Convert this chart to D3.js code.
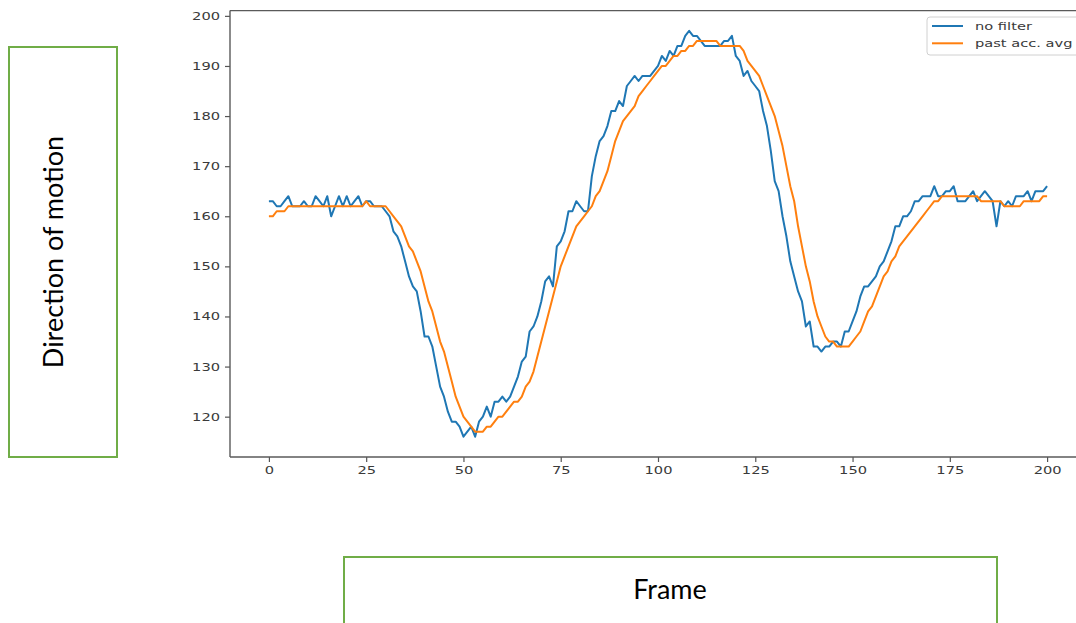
<!DOCTYPE html>
<html>
<head>
<meta charset="utf-8">
<script src="https://cdn.jsdelivr.net/npm/d3@7"></script>
<style>
  body { margin: 0; background: #fff; overflow: hidden; }
  svg { display: block; }
</style>
</head>
<body>
<div id="chart"></div>
<script>
// frame numbers 0..200
var frames = d3.range(0, 201);

// direction of motion, raw
var noFilter = [
  163, 163, 162, 162, 163, 164, 162, 162, 162, 163,
  162, 162, 164, 163, 162, 164, 160, 162, 164, 162,
  164, 162, 163, 164, 162, 163, 163, 162, 162, 162,
  161, 160, 157, 156, 154, 151, 148, 146, 145, 141,
  136, 136, 134, 130, 126, 124, 121, 119, 119, 118,
  116, 117, 118, 116, 119, 120, 122, 120, 123, 123,
  124, 123, 124, 126, 128, 131, 132, 137, 138, 140,
  143, 147, 148, 146, 154, 155, 157, 161, 161, 163,
  162, 161, 161, 168, 172, 175, 176, 178, 181, 181,
  183, 182, 186, 187, 188, 187, 188, 188, 188, 189,
  190, 192, 191, 193, 192, 194, 194, 196, 197, 196,
  196, 195, 194, 194, 194, 194, 194, 195, 195, 196,
  192, 191, 188, 189, 187, 186, 185, 181, 178, 173,
  167, 165, 160, 156, 151, 148, 145, 143, 138, 139,
  134, 134, 133, 134, 134, 135, 135, 134, 137, 137,
  139, 141, 144, 146, 146, 147, 148, 150, 151, 153,
  155, 158, 158, 160, 160, 161, 163, 163, 164, 164,
  164, 166, 164, 164, 165, 165, 166, 163, 163, 163,
  164, 165, 163, 164, 165, 164, 163, 158, 163, 162,
  163, 162, 164, 164, 164, 165, 163, 165, 165, 165,
  166
];

// direction of motion, past accumulated average
var pastAccAvg = [
  160, 160, 161, 161, 161, 162, 162, 162, 162, 162,
  162, 162, 162, 162, 162, 162, 162, 162, 162, 162,
  162, 162, 162, 162, 162, 163, 162, 162, 162, 162,
  162, 161, 160, 159, 158, 156, 154, 153, 151, 149,
  146, 143, 141, 138, 135, 133, 130, 127, 124, 122,
  120, 119, 118, 117, 117, 117, 118, 118, 119, 120,
  120, 121, 122, 123, 123, 124, 126, 127, 129, 132,
  135, 138, 141, 144, 147, 150, 152, 154, 156, 158,
  159, 160, 161, 162, 164, 165, 167, 169, 172, 175,
  177, 179, 180, 181, 182, 184, 185, 186, 187, 188,
  189, 190, 190, 191, 192, 192, 193, 193, 194, 194,
  195, 195, 195, 195, 195, 195, 194, 194, 194, 194,
  194, 194, 193, 191, 190, 189, 188, 186, 184, 182,
  180, 177, 174, 170, 166, 163, 158, 154, 150, 147,
  143, 140, 138, 136, 135, 135, 134, 134, 134, 134,
  135, 136, 137, 139, 141, 142, 144, 146, 148, 149,
  151, 152, 154, 155, 156, 157, 158, 159, 160, 161,
  162, 163, 163, 164, 164, 164, 164, 164, 164, 164,
  164, 164, 164, 163, 163, 163, 163, 163, 163, 162,
  162, 162, 162, 162, 163, 163, 163, 163, 163, 164,
  164
];

var xTicks = [0, 25, 50, 75, 100, 125, 150, 175, 200];
var yTicks = [120, 130, 140, 150, 160, 170, 180, 190, 200];

var seriesNames = ["no filter", "past acc. avg"];
var seriesColors = ["#1f77b4", "#ff7f0e"];

var svgWidth = 1076;
var svgHeight = 623;

var svg = d3.select("#chart")
  .append("svg")
  .attr("width", svgWidth)
  .attr("height", svgHeight);

// plot box (right edge falls outside the picture)
var plot = {left: 230, right: 1086, top: 10.6, bottom: 457};

var xScale = d3.scaleLinear()
  .domain([-10, 210])
  .range([plot.left, plot.right]);

var yScale = d3.scaleLinear()
  .domain([111.95, 201.05])
  .range([plot.bottom, plot.top]);

// stretch tick text wider, the source image is squashed sideways
function widen(sel, k) {
  sel.each(function () {
    var len = this.getComputedTextLength();
    d3.select(this)
      .attr("textLength", len * k)
      .attr("lengthAdjust", "spacingAndGlyphs");
  });
}

// lines
var lineGen = d3.line()
  .x(function (d, i) { return xScale(frames[i]); })
  .y(function (d) { return yScale(d); });

[noFilter, pastAccAvg].forEach(function (vals, i) {
  svg.append("path")
    .datum(vals)
    .attr("fill", "none")
    .attr("stroke", seriesColors[i])
    .attr("stroke-width", 2)
    .attr("stroke-linejoin", "round")
    .attr("d", lineGen);
});

// axes
var bottomAxis = d3.axisBottom(xScale)
  .tickValues(xTicks)
  .tickSize(5)
  .tickSizeOuter(0)
  .tickPadding(4);

var leftAxis = d3.axisLeft(yScale)
  .tickValues(yTicks)
  .tickSize(5)
  .tickSizeOuter(0)
  .tickPadding(5);

var xAxis = svg.append("g")
  .attr("transform", `translate(0, ${plot.bottom})`)
  .call(bottomAxis);

var yAxis = svg.append("g")
  .attr("transform", `translate(${plot.left}, 0)`)
  .call(leftAxis);

[xAxis, yAxis].forEach(function (ax) {
  ax.select(".domain").remove();
  ax.selectAll(".tick line").attr("stroke", "#555").attr("stroke-width", 1.2);
  ax.selectAll(".tick text")
    .attr("fill", "#3a3a3a")
    .style("font-family", "DejaVu Sans")
    .style("font-size", "11px");
  widen(ax.selectAll(".tick text"), 1.33);
});

// spines
var spines = svg.append("g")
  .attr("stroke", "#5a5a5a")
  .attr("stroke-width", 1.4)
  .attr("fill", "none");
spines.append("line").attr("x1", plot.left).attr("x2", plot.left).attr("y1", plot.top).attr("y2", plot.bottom);
spines.append("line").attr("x1", plot.left).attr("x2", plot.right).attr("y1", plot.bottom).attr("y2", plot.bottom);
spines.append("line").attr("x1", plot.left).attr("x2", plot.right).attr("y1", plot.top).attr("y2", plot.top);
spines.append("line").attr("x1", plot.right).attr("x2", plot.right).attr("y1", plot.top).attr("y2", plot.bottom);

// legend
var legend = svg.append("g").attr("transform", "translate(927, 17)");
legend.append("rect")
  .attr("width", 153)
  .attr("height", 38)
  .attr("rx", 3)
  .attr("fill", "#fff")
  .attr("fill-opacity", 0.8)
  .attr("stroke", "#d0d0d0")
  .attr("stroke-width", 1);

seriesNames.forEach(function (name, i) {
  var row = legend.append("g").attr("transform", `translate(0, ${9 + i * 17.3})`);
  row.append("line")
    .attr("x1", 5).attr("x2", 36)
    .attr("y1", 0).attr("y2", 0)
    .attr("stroke", seriesColors[i])
    .attr("stroke-width", 2);
  row.append("text")
    .attr("x", 48)
    .attr("y", 4)
    .attr("fill", "#3a3a3a")
    .style("font-family", "DejaVu Sans")
    .style("font-size", "11px")
    .text(name);
});
widen(legend.selectAll("text"), 1.33);

// axis title boxes (green frames, as pasted into the document)
svg.append("rect")
  .attr("x", 9).attr("y", 47)
  .attr("width", 108).attr("height", 410)
  .attr("fill", "none")
  .attr("stroke", "#70ad47")
  .attr("stroke-width", 2);

svg.append("text")
  .attr("transform", "translate(52, 252) rotate(-90)")
  .attr("text-anchor", "middle")
  .attr("dominant-baseline", "central")
  .attr("fill", "#000")
  .style("font-family", "Lato")
  .style("font-size", "27px")
  .text("Direction of motion");

svg.append("rect")
  .attr("x", 344).attr("y", 557)
  .attr("width", 653).attr("height", 100)
  .attr("fill", "none")
  .attr("stroke", "#70ad47")
  .attr("stroke-width", 2);

svg.append("text")
  .attr("x", 670)
  .attr("y", 588)
  .attr("text-anchor", "middle")
  .attr("dominant-baseline", "central")
  .attr("fill", "#000")
  .style("font-family", "Lato")
  .style("font-size", "27px")
  .text("Frame");
</script>
</body>
</html>
